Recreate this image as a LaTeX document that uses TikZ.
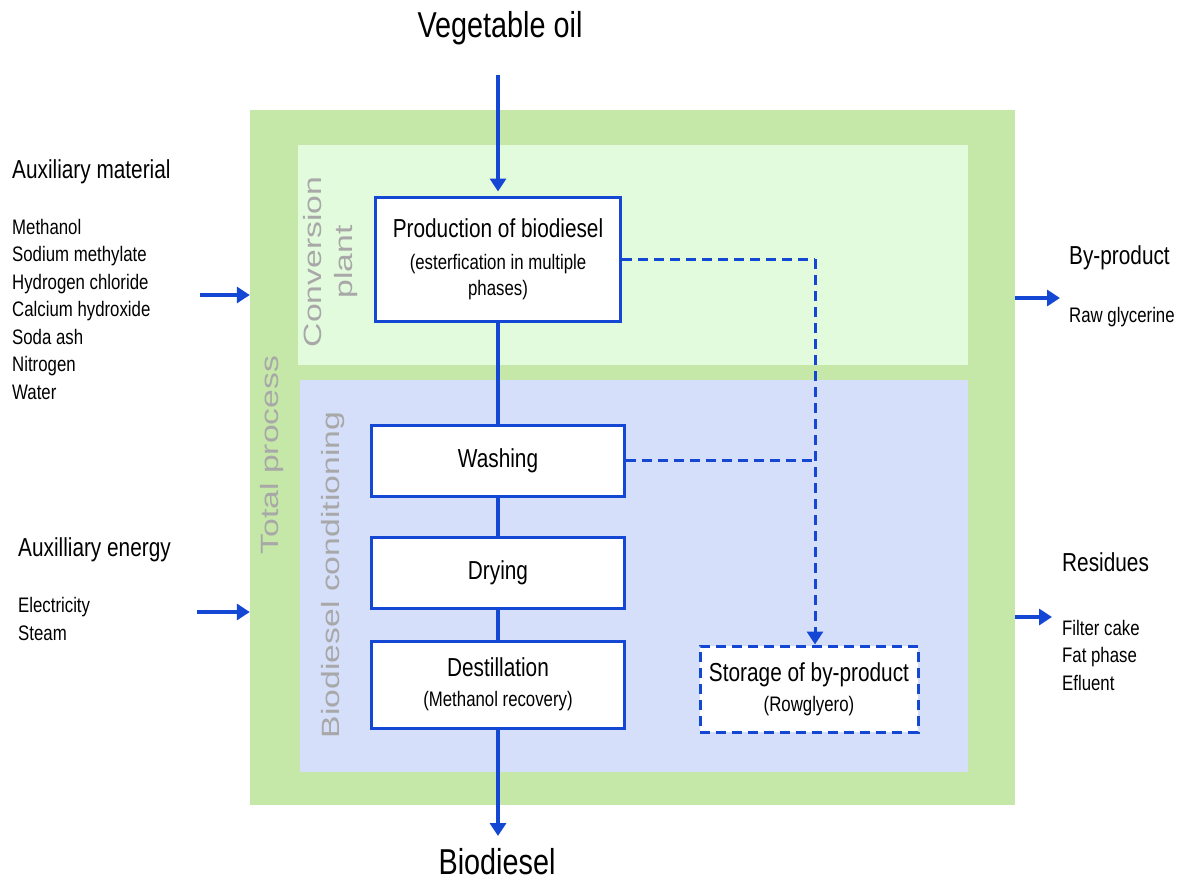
\documentclass[tikz,border=0pt]{standalone}
\usepackage{fontspec}
\setmainfont{Liberation Sans}
\newfontfamily\narrowsf{Liberation Sans}[FakeStretch=0.8]
\newfontfamily\widesf{Liberation Sans}[FakeStretch=1.35]
\usetikzlibrary{arrows.meta}

\definecolor{totgreen}{RGB}{197,232,168}
\definecolor{convgreen}{RGB}{227,251,221}
\definecolor{condblue}{RGB}{213,223,250}
\definecolor{flowblue}{RGB}{20,72,212}
\definecolor{labgray}{RGB}{168,168,168}

\newcommand{\subtxt}[1]{{\fontsize{21}{28}\selectfont #1}}

\tikzstyle{region}=[shape=rectangle, draw=none, inner sep=0pt]
\tikzstyle{regionlab}=[rotate=90, text=labgray, align=center,
                  font=\widesf\fontsize{25}{31}\selectfont]
\tikzstyle{procbox}=[shape=rectangle, draw=flowblue, fill=white,
                  line width=3pt, inner sep=0pt, align=center,
                  font=\narrowsf\fontsize{26}{30}\selectfont]
\tikzstyle{dashbox}=[procbox, dash pattern=on 10pt off 6pt]
\tikzstyle{head}=[anchor=west, inner sep=0pt,
                  font=\narrowsf\fontsize{26}{30}\selectfont]
\tikzstyle{items}=[anchor=west, inner sep=0pt, align=left,
                  font=\narrowsf\fontsize{21}{27.5}\selectfont]
\tikzstyle{title}=[inner sep=0pt, font=\narrowsf\fontsize{36}{40}\selectfont]
\tikzstyle{flow}=[draw=flowblue, line width=4pt]
\tikzstyle{byflow}=[flow, line width=3pt, dash pattern=on 10pt off 6pt]

\begin{document}
\begin{tikzpicture}[x=1pt, y=-1pt, >={Triangle[length=13pt, width=16pt]}]
\useasboundingbox (0,0) rectangle (1184,884);

% regions
\node[region, fill=totgreen, minimum width=765pt, minimum height=695pt] (tot) at (632.5,457.5) {};
\node[region, fill=convgreen, minimum width=670pt, minimum height=220pt] (conv) at (633,255) {};
\node[region, fill=condblue, minimum width=668pt, minimum height=392pt] (cond) at (634,576) {};
\node[regionlab] (totlab) at (272,455) {Total process};
\node[regionlab] (convlab) at (331,262) {Conversion\\plant};
\node[regionlab] (condlab) at (333,575) {Biodiesel conditioning};

% process steps
\node[procbox, minimum width=245pt, minimum height=124pt] (prod) at (498,259)
  {Production of biodiesel\\[2pt]\subtxt{(esterfication in multiple}\\[-4pt]\subtxt{phases)}};
\node[procbox, minimum width=253pt, minimum height=71pt] (wash) at (498,460.5) {Washing};
\node[procbox, minimum width=253pt, minimum height=71pt] (dry) at (498,572.5) {Drying};
\node[procbox, minimum width=253pt, minimum height=87pt] (dest) at (498,684.5)
  {Destillation\\\subtxt{(Methanol recovery)}};
\node[dashbox, minimum width=218pt, minimum height=86pt] (stor) at (809,689)
  {Storage of by-product\\\subtxt{(Rowglyero)}};

% inputs and outputs
\node[title] (oil) at (500,28) {Vegetable oil};
\node[title] (bio) at (497,862) {Biodiesel};
\node[head] (mat) at (12,172) {Auxiliary material};
\node[items] (matlist) at (12,309) {Methanol\\Sodium methylate\\Hydrogen chloride\\Calcium hydroxide\\Soda ash\\Nitrogen\\Water};
\node[head] (ener) at (18,550) {Auxilliary energy};
\node[items] (enerlist) at (18,619) {Electricity\\Steam};
\node[head] (byp) at (1069,258) {By-product};
\node[items] (byplist) at (1069,317) {Raw glycerine};
\node[head] (res) at (1062,562) {Residues};
\node[items] (reslist) at (1062,655) {Filter cake\\Fat phase\\Efluent};

\coordinate (oilin) at (498,75);
\coordinate (bioout) at (498,836);
\coordinate (matin) at (200,295);
\coordinate (enin) at (197,612);
\coordinate (bypout) at (1060,298);
\coordinate (resout) at (1052,617);
\coordinate (jn) at (815,259);

% paths
\path[->] (oilin) edge[flow, shorten >=4pt] (prod);
\path (prod) edge[flow] (wash);
\path (wash) edge[flow] (dry);
\path (dry) edge[flow] (dest);
\path[->] (dest) edge[flow] (bioout);
\path[->] (matin) edge[flow] (matin -| tot.west);
\path[->] (enin) edge[flow] (enin -| tot.west);
\path[->] (bypout -| tot.east) edge[flow] (bypout);
\path[->] (resout -| tot.east) edge[flow] (resout);
\path (prod.east) edge[byflow] (jn);
\path[->] (jn) edge[byflow] (jn |- stor.north);
\path (wash.east) edge[byflow] (wash.east -| jn);

\end{tikzpicture}
\end{document}
